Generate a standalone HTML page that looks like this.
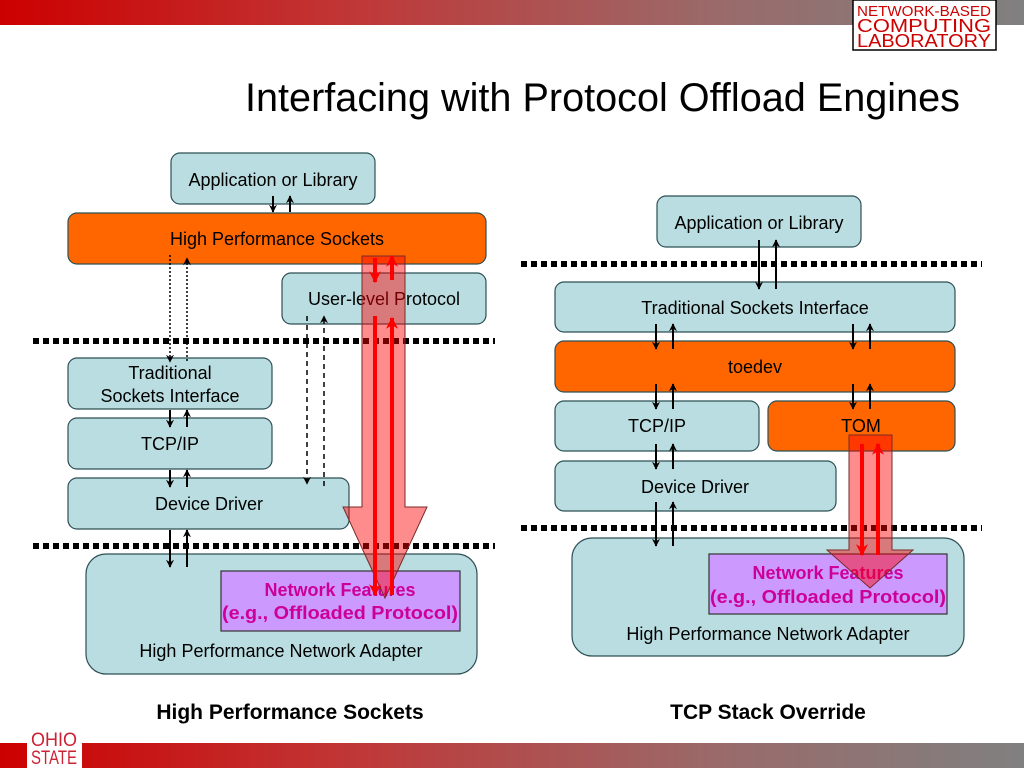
<!DOCTYPE html>
<html><head><meta charset="utf-8"><style>
html,body{margin:0;padding:0;background:#fff}
svg{display:block}
text{font-family:"Liberation Sans",Arial,sans-serif}
</style></head><body>
<svg width="1024" height="768" viewBox="0 0 1024 768" xmlns="http://www.w3.org/2000/svg">
<defs>
<linearGradient id="bar" x1="0" x2="1" y1="0" y2="0">
<stop offset="0" stop-color="#cc0000"/><stop offset="0.35" stop-color="#c03838"/><stop offset="0.7" stop-color="#9a6a6a"/><stop offset="1" stop-color="#808080"/>
</linearGradient>
<marker id="ah" viewBox="0 0 10 10" refX="9" refY="5" markerWidth="9" markerHeight="8" orient="auto" markerUnits="userSpaceOnUse"><path d="M0,0 L10,5 L0,10 L3,5 z" fill="#000"/></marker>
<marker id="rh" viewBox="0 0 10 10" refX="9" refY="5" markerWidth="12" markerHeight="12" orient="auto" markerUnits="userSpaceOnUse"><path d="M0,0 L10,5 L0,10 L3,5 z" fill="#ff0000"/></marker>
</defs>
<rect x="0" y="0" width="1024" height="25" fill="url(#bar)"/>
<rect x="0" y="743" width="1024" height="25" fill="url(#bar)"/>
<rect x="853" y="0" width="143" height="50" fill="#fff" stroke="#000" stroke-width="1.5"/>
<g fill="#cc0000" text-anchor="middle">
<text x="924" y="16" font-size="15" textLength="134" lengthAdjust="spacingAndGlyphs">NETWORK-BASED</text>
<text x="924" y="32" font-size="18" textLength="134" lengthAdjust="spacingAndGlyphs">COMPUTING</text>
<text x="924" y="47" font-size="18" textLength="134" lengthAdjust="spacingAndGlyphs">LABORATORY</text>
</g>
<rect x="27" y="727" width="55" height="41" fill="#fff"/>
<text x="54" y="746" font-family="Liberation Serif" font-size="19" fill="#cc2233" text-anchor="middle" textLength="46" lengthAdjust="spacingAndGlyphs">OHIO</text>
<text x="54" y="764" font-family="Liberation Serif" font-size="19" fill="#cc2233" text-anchor="middle" textLength="46" lengthAdjust="spacingAndGlyphs">STATE</text>

<text x="245" y="111" font-size="40" textLength="715" lengthAdjust="spacingAndGlyphs">Interfacing with Protocol Offload Engines</text>

<g stroke="#000" stroke-width="6" stroke-dasharray="6 4">
<line x1="33" y1="341" x2="495" y2="341"/>
<line x1="33" y1="546" x2="495" y2="546"/>
<line x1="521" y1="264" x2="982" y2="264"/>
<line x1="521" y1="528" x2="982" y2="528"/>
</g>

<g stroke="#2d4f55" stroke-width="1.2" fill="#b9dde0">
<rect x="171" y="153" width="204" height="51" rx="9"/>
<rect x="68" y="213" width="418" height="51" rx="9" fill="#ff6600"/>
<rect x="282" y="273" width="204" height="51" rx="9"/>
<rect x="68" y="358" width="204" height="51" rx="9"/>
<rect x="68" y="418" width="204" height="51" rx="9"/>
<rect x="68" y="478" width="281" height="51" rx="9"/>
<rect x="86" y="554" width="391" height="120" rx="20"/>
<rect x="221" y="571" width="239" height="60" rx="0" fill="#cc99ff" stroke="#333"/>

<rect x="657" y="196" width="204" height="51" rx="9"/>
<rect x="555" y="282" width="400" height="50" rx="9"/>
<rect x="555" y="341" width="400" height="51" rx="9" fill="#ff6600"/>
<rect x="555" y="401" width="204" height="50" rx="9"/>
<rect x="768" y="401" width="187" height="50" rx="9" fill="#ff6600"/>
<rect x="555" y="461" width="281" height="50" rx="9"/>
<rect x="572" y="538" width="392" height="118" rx="20"/>
<rect x="709" y="554" width="238" height="60" rx="0" fill="#cc99ff" stroke="#333"/>
</g>

<g font-size="18" text-anchor="middle" fill="#000">
<text x="273" y="186">Application or Library</text>
<text x="277" y="245">High Performance Sockets</text>
<text x="384" y="305">User-level Protocol</text>
<text x="170" y="379">Traditional</text>
<text x="170" y="402">Sockets Interface</text>
<text x="170" y="450">TCP/IP</text>
<text x="209" y="510">Device Driver</text>
<text x="281" y="657">High Performance Network Adapter</text>
<text x="759" y="229">Application or Library</text>
<text x="755" y="314">Traditional Sockets Interface</text>
<text x="755" y="373">toedev</text>
<text x="657" y="432">TCP/IP</text>
<text x="861" y="432">TOM</text>
<text x="695" y="493">Device Driver</text>
<text x="768" y="640">High Performance Network Adapter</text>
</g>
<g font-size="18" font-weight="bold" text-anchor="middle" fill="#cc0099">
<text x="340" y="596">Network Features</text>
<text x="340" y="619" textLength="236" lengthAdjust="spacingAndGlyphs">(e.g., Offloaded Protocol)</text>
<text x="828" y="579">Network Features</text>
<text x="828" y="603" textLength="236" lengthAdjust="spacingAndGlyphs">(e.g., Offloaded Protocol)</text>
</g>
<g font-size="21" font-weight="bold" text-anchor="middle">
<text x="290" y="719">High Performance Sockets</text>
<text x="768" y="719">TCP Stack Override</text>
</g>

<g stroke="#000" stroke-width="2" fill="none" marker-end="url(#ah)">
<line x1="273" y1="196" x2="273" y2="212"/><line x1="290" y1="212" x2="290" y2="196"/>
<line x1="170" y1="410" x2="170" y2="427"/><line x1="187" y1="427" x2="187" y2="410"/>
<line x1="170" y1="470" x2="170" y2="487"/><line x1="187" y1="487" x2="187" y2="470"/>
<line x1="170" y1="530" x2="170" y2="567"/><line x1="187" y1="567" x2="187" y2="530"/>
<line x1="170" y1="255" x2="170" y2="362" stroke-width="1.5" stroke-dasharray="2 2"/><line x1="187" y1="361" x2="187" y2="258" stroke-width="1.5" stroke-dasharray="2 2"/>
<line x1="307" y1="316" x2="307" y2="484" stroke-width="1.5" stroke-dasharray="5 4"/><line x1="324" y1="486" x2="324" y2="316" stroke-width="1.5" stroke-dasharray="5 4"/>

<line x1="759" y1="240" x2="759" y2="289"/><line x1="776" y1="289" x2="776" y2="240"/>
<line x1="656" y1="324" x2="656" y2="349"/><line x1="673" y1="349" x2="673" y2="324"/>
<line x1="853" y1="324" x2="853" y2="349"/><line x1="870" y1="349" x2="870" y2="324"/>
<line x1="656" y1="384" x2="656" y2="409"/><line x1="673" y1="409" x2="673" y2="384"/>
<line x1="853" y1="384" x2="853" y2="409"/><line x1="870" y1="409" x2="870" y2="384"/>
<line x1="656" y1="444" x2="656" y2="469"/><line x1="673" y1="469" x2="673" y2="444"/>
<line x1="656" y1="502" x2="656" y2="546"/><line x1="673" y1="546" x2="673" y2="502"/>
</g>

<path d="M362,256 L405,256 L405,507 L427,507 L385,598 L343,507 L362,507 Z" fill="rgba(255,0,0,0.45)" stroke="#7a2a2a" stroke-width="1"/>
<path d="M849,435 L892,435 L892,550 L913,550 L870,588 L827,550 L849,550 Z" fill="rgba(255,0,0,0.45)" stroke="#7a2a2a" stroke-width="1"/>
<g stroke="#ff0000" stroke-width="4" fill="none" marker-end="url(#rh)">
<line x1="375" y1="258" x2="375" y2="282"/><line x1="392" y1="280" x2="392" y2="256"/>
<line x1="375" y1="316" x2="375" y2="595"/><line x1="392" y1="595" x2="392" y2="318"/>
<line x1="862" y1="444" x2="862" y2="555"/><line x1="878" y1="555" x2="878" y2="444"/>
</g>
</svg>
</body></html>
